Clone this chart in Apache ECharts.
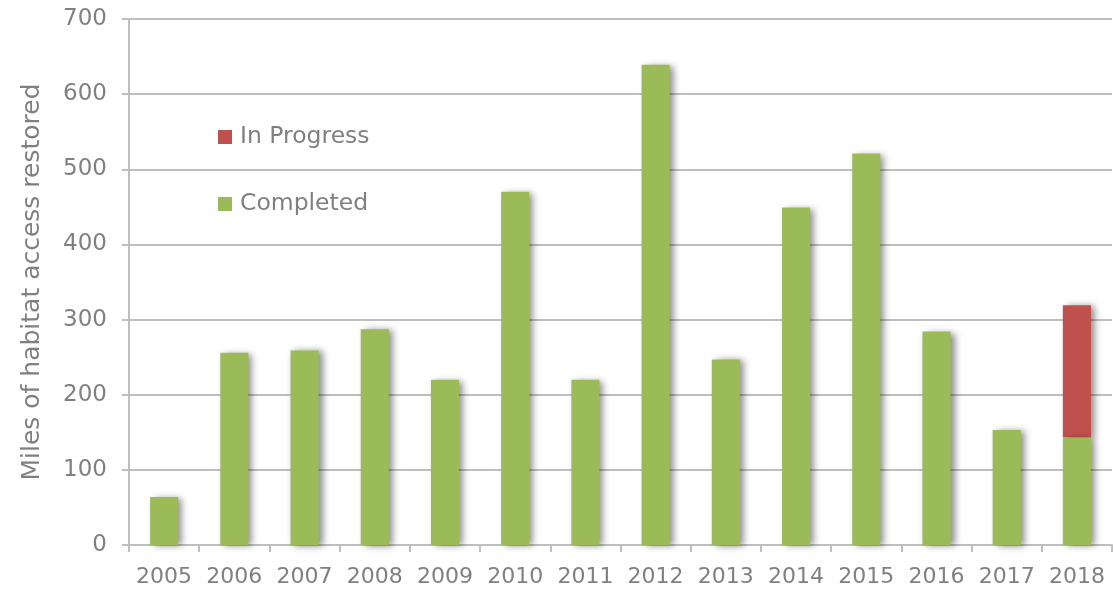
<!DOCTYPE html>
<html><head><meta charset="utf-8">
<script src="https://cdn.jsdelivr.net/npm/echarts@6/dist/echarts.min.js"></script>
<style>html,body{margin:0;padding:0;background:#fff}#c{width:1113px;height:594px}</style>
</head><body><div id="c"></div>
<script>
const years = ['2005','2006','2007','2008','2009','2010','2011','2012','2013','2014','2015','2016','2017','2018'];
const completed = [64,256,259,287,220,470,220,639,247,449,521,284,153,143];
const inProgress = [0,0,0,0,0,0,0,0,0,0,0,0,0,176];
const yTicks = [0,100,200,300,400,500,600,700];

const txt = '#808080';
const font = 'DejaVu Sans';
const shadow = {shadowColor:'rgba(0,0,0,0.45)', shadowBlur:7, shadowOffsetX:4, shadowOffsetY:1};
const chart = echarts.init(document.getElementById('c'));
chart.setOption({
  animation:false,
  textStyle:{fontFamily:font},
  grid:{left:129,right:1,top:19,bottom:49,containLabel:false},
  legend:{orient:'vertical',left:213,top:120,itemGap:43,itemWidth:14,itemHeight:14,icon:'rect',
    data:['In Progress','Completed'],
    textStyle:{color:txt,fontSize:23.5,fontFamily:font,padding:[0,0,0,3]}},
  xAxis:{type:'category',data:years,
    axisLine:{lineStyle:{color:'#bfbfbf',width:2}},
    axisTick:{show:true,length:7,interval:0,lineStyle:{color:'#bfbfbf',width:2}},
    axisLabel:{color:txt,fontSize:22,margin:21,interval:0,fontFamily:font}},
  yAxis:{type:'value',min:yTicks[0],max:yTicks[yTicks.length-1],interval:100,
    name:'Miles of habitat access restored',nameLocation:'middle',nameGap:84,
    nameTextStyle:{color:txt,fontSize:25,fontFamily:font},
    axisLine:{show:true,lineStyle:{color:'#bfbfbf',width:2}},
    axisTick:{show:true,length:7,lineStyle:{color:'#bfbfbf',width:2}},
    axisLabel:{color:txt,fontSize:23,margin:22,fontFamily:font},
    splitLine:{lineStyle:{color:'#bfbfbf',width:2}}},
  series:[
    {name:'Completed',type:'bar',stack:'a',data:completed,barWidth:'40%',z:3,
      itemStyle:Object.assign({color:'#9bbb59'},shadow)},
    {name:'In Progress',type:'bar',stack:'a',data:inProgress,barWidth:'40%',z:2,
      itemStyle:Object.assign({color:'#c0504d'},shadow)}
  ]
});
</script></body></html>
